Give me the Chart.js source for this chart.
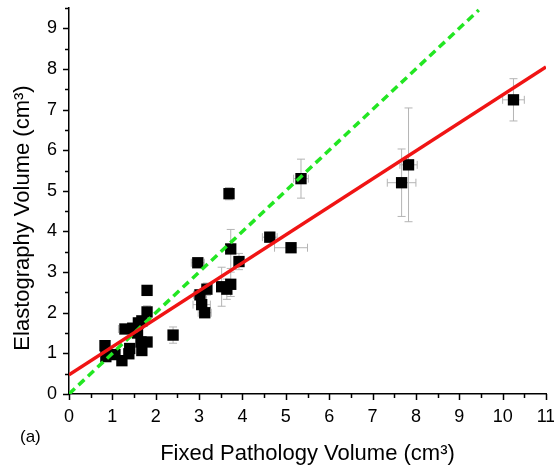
<!DOCTYPE html>
<html>
<head>
<meta charset="utf-8">
<script src="https://cdn.jsdelivr.net/npm/chart.js@4/dist/chart.umd.min.js"></script>
<style>
  html, body { margin: 0; padding: 0; background: #fff; }
  #wrap { width: 554px; height: 471px; }
</style>
</head>
<body>
<div id="wrap"><canvas id="chart" width="554" height="471"></canvas></div>
<script>
// measured points (fixed pathology vs elastography volume, cm3)
const pathVol = [0.83, 0.85, 1.06, 1.22, 1.29, 1.40, 1.38, 1.52, 1.47, 1.60, 1.68, 1.66, 1.68, 1.80, 1.80, 1.80, 1.58,
  2.40, 2.97, 3.02, 3.06, 3.13, 3.18, 3.52, 3.64, 3.73, 3.69, 3.73, 3.92, 4.63, 5.12, 5.35, 7.67, 7.83, 10.25];
const elastoVol = [1.19, 0.92, 0.97, 0.82, 1.60, 1.12, 0.99, 1.58, 1.62, 1.75, 1.80, 1.28, 1.07, 1.28, 2.02, 2.55, 1.50,
  1.45, 3.23, 2.44, 2.20, 2.00, 2.58, 2.64, 2.58, 2.70, 4.93, 3.57, 3.26, 3.86, 3.60, 5.30, 5.20, 5.64, 7.24];
// error bar half-widths
const pathErr = [0.08, 0.05, 0.05, 0.05, 0.15, 0.08, 0.05, 0.08, 0.08, 0.08, 0.08, 0.05, 0.05, 0.05, 0.08, 0.05, 0.05,
  0.10, 0.15, 0.15, 0.20, 0.15, 0.10, 0.10, 0.10, 0.10, 0.08, 0.10, 0.10, 0.17, 0.38, 0.17, 0.33, 0.20, 0.25];
const elastoErr = [0.10, 0.08, 0.05, 0.05, 0.10, 0.08, 0.05, 0.10, 0.10, 0.10, 0.10, 0.08, 0.05, 0.08, 0.15, 0.10, 0.05,
  0.20, 0.10, 0.10, 0.10, 0.08, 0.15, 0.48, 0.25, 0.30, 0.15, 0.48, 0.20, 0.12, 0.10, 0.48, 0.83, 1.40, 0.52];

// linear fit and line of identity
const fitX = [0, 11];
const fitY = [0.47, 8.05];
const identX = [0, 9.45];
const identY = [0, 9.45];

const xTicks = [0, 1, 2, 3, 4, 5, 6, 7, 8, 9, 10, 11];
const yTicks = [0, 1, 2, 3, 4, 5, 6, 7, 8, 9];

const FONT = '"Liberation Sans", Arial, sans-serif';

const errorBars = {
  id: 'errorBars',
  beforeDatasetsDraw(chart) {
    const { ctx, scales: { x, y } } = chart;
    ctx.save();
    ctx.strokeStyle = '#b4b4b4';
    ctx.lineWidth = 1;
    const cap = 4;
    pathVol.forEach((px, i) => {
      const cx = x.getPixelForValue(px), cy = y.getPixelForValue(elastoVol[i]);
      const y1 = y.getPixelForValue(elastoVol[i] + elastoErr[i]);
      const y2 = y.getPixelForValue(elastoVol[i] - elastoErr[i]);
      const x1 = x.getPixelForValue(px - pathErr[i]);
      const x2 = x.getPixelForValue(px + pathErr[i]);
      ctx.beginPath();
      ctx.moveTo(cx, y1); ctx.lineTo(cx, y2);
      ctx.moveTo(cx - cap, y1); ctx.lineTo(cx + cap, y1);
      ctx.moveTo(cx - cap, y2); ctx.lineTo(cx + cap, y2);
      ctx.moveTo(x1, cy); ctx.lineTo(x2, cy);
      ctx.moveTo(x1, cy - cap); ctx.lineTo(x1, cy + cap);
      ctx.moveTo(x2, cy - cap); ctx.lineTo(x2, cy + cap);
      ctx.stroke();
    });
    ctx.restore();
  }
};

const axisTicks = {
  id: 'axisTicks',
  afterDraw(chart) {
    const { ctx, chartArea: a, scales: { x, y } } = chart;
    ctx.save();
    ctx.strokeStyle = '#000';
    ctx.lineWidth = 1.5;
    ctx.beginPath();
    for (let v = 0; v <= 11.001; v += 0.5) {
      const p = Math.round(x.getPixelForValue(v)) + 0.5;
      const len = Number.isInteger(v) ? 6 : 4;
      ctx.moveTo(p, a.bottom); ctx.lineTo(p, a.bottom + len);
    }
    for (let v = 0; v <= 9.5001; v += 0.5) {
      const p = Math.round(y.getPixelForValue(v)) + 0.5;
      const len = Number.isInteger(v) ? 6 : 4;
      ctx.moveTo(a.left, p); ctx.lineTo(a.left - len, p);
    }
    ctx.stroke();
    ctx.fillStyle = '#000';
    ctx.font = '17px ' + FONT;
    ctx.textBaseline = 'middle';
    ctx.fillText('(a)', 20, 437);
    // y-axis title, drawn here so it can sit where the original has it
    ctx.font = '22px ' + FONT;
    ctx.textAlign = 'center';
    ctx.translate(23, 218);
    ctx.rotate(-Math.PI / 2);
    ctx.fillText('Elastography Volume (cm³)', 0, 0);
    ctx.restore();
  }
};

new Chart(document.getElementById('chart').getContext('2d'), {
  type: 'scatter',
  data: {
    datasets: [
      {
        label: 'Fit',
        type: 'line',
        data: fitX.map((v, i) => ({ x: v, y: fitY[i] })),
        borderColor: '#f01414',
        borderWidth: 3.5,
        pointRadius: 0,
        fill: false
      },
      {
        label: 'Identity',
        type: 'line',
        data: identX.map((v, i) => ({ x: v, y: identY[i] })),
        borderColor: '#22e622',
        borderWidth: 3.5,
        borderDash: [8, 5],
        pointRadius: 0,
        fill: false
      },
      {
        label: 'Volumes',
        data: pathVol.map((v, i) => ({ x: v, y: elastoVol[i] })),
        pointStyle: 'rect',
        pointRadius: 8,
        backgroundColor: '#000',
        borderColor: '#000',
        borderWidth: 0
      }
    ]
  },
  options: {
    responsive: false,
    animation: false,
    layout: { padding: { top: 8, right: 8, left: 0, bottom: 0 } },
    plugins: {
      legend: { display: false },
      tooltip: { enabled: false }
    },
    scales: {
      x: {
        type: 'linear',
        min: 0,
        max: 11,
        afterBuildTicks: s => { s.ticks = xTicks.map(v => ({ value: v })); },
        afterFit: s => { s.height = 77; s.paddingLeft = 0; s.paddingRight = 0; },
        grid: { display: false },
        border: { display: true, color: '#000', width: 1.5 },
        ticks: { color: '#000', padding: 4, font: { family: FONT, size: 18 } },
        title: { display: true, text: 'Fixed Pathology Volume (cm³)', color: '#000', padding: { top: 4 }, font: { family: FONT, size: 22 } }
      },
      y: {
        type: 'linear',
        min: 0,
        max: 9.5,
        afterBuildTicks: s => { s.ticks = yTicks.map(v => ({ value: v })); },
        afterFit: s => { s.width = 69; s.paddingTop = 0; s.paddingBottom = 0; },
        grid: { display: false },
        border: { display: true, color: '#000', width: 1.5 },
        ticks: { color: '#000', padding: 4, font: { family: FONT, size: 18 } }
      }
    }
  },
  plugins: [errorBars, axisTicks]
});
</script>
</body>
</html>
